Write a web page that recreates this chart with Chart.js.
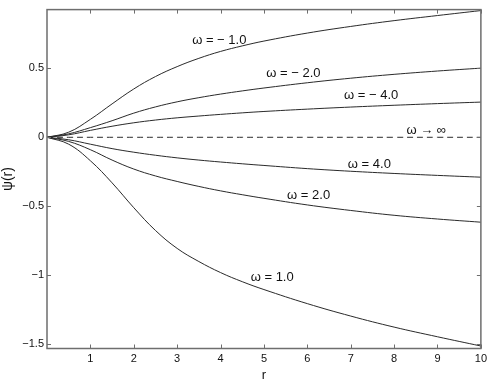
<!DOCTYPE html>
<html>
<head>
<meta charset="utf-8">
<script src="https://cdn.jsdelivr.net/npm/chart.js@4/dist/chart.umd.min.js"></script>
<style>
html,body{margin:0;padding:0;background:#fff;}
#wrap{width:491px;height:385px;position:relative;}
</style>
</head>
<body>
<div id="wrap"><canvas id="c"></canvas></div>
<script>
// ---- data ----
const rValues     = [0, 0.5, 1, 1.5, 2, 2.5, 3, 3.5, 4, 4.5, 5, 6, 7, 8, 9, 10];
const psiOmegaM1  = [0, 0.037, 0.13, 0.242, 0.35, 0.44, 0.512, 0.572, 0.622, 0.662, 0.697, 0.755, 0.803, 0.845, 0.882, 0.918];
const psiOmegaM2  = [0, 0.025, 0.07, 0.12, 0.175, 0.22, 0.257, 0.287, 0.313, 0.336, 0.357, 0.395, 0.428, 0.456, 0.48, 0.501];
const psiOmegaM4  = [0, 0.018, 0.05, 0.08, 0.105, 0.125, 0.141, 0.154, 0.166, 0.177, 0.187, 0.204, 0.219, 0.232, 0.244, 0.255];
const psiOmegaInf = [0, 0, 0, 0, 0, 0, 0, 0, 0, 0, 0, 0, 0, 0, 0, 0];
const psiOmegaP4  = [0, -0.018, -0.05, -0.082, -0.108, -0.13, -0.149, -0.165, -0.179, -0.192, -0.204, -0.227, -0.246, -0.262, -0.276, -0.289];
const psiOmegaP2  = [0, -0.03, -0.09, -0.165, -0.23, -0.28, -0.32, -0.356, -0.388, -0.416, -0.442, -0.49, -0.53, -0.565, -0.592, -0.615];
const psiOmegaP1  = [0, -0.05, -0.17, -0.33, -0.51, -0.675, -0.805, -0.90, -0.98, -1.046, -1.103, -1.205, -1.295, -1.375, -1.445, -1.512];
const xTickValues = [1, 2, 3, 4, 5, 6, 7, 8, 9, 10];
const yTickValues = [-1.5, -1, -0.5, 0, 0.5];
const yTickLabels = ['\u22121.5', '\u22121', '\u22120.5', '0', '0.5'];
const curveLabels = ['\u03c9 = \u2212 1.0', '\u03c9 = \u2212 2.0', '\u03c9 = \u2212 4.0', '\u03c9 \u2192 \u221e', '\u03c9 = 4.0', '\u03c9 = 2.0', '\u03c9 = 1.0'];
const curveLabelR   = [3.97, 5.68, 7.47, 8.74, 7.43, 6.03, 5.19];
const curveLabelPsi = [0.70, 0.465, 0.30, 0.052, -0.194, -0.421, -1.017];

const seriesList = [
  {data: psiOmegaM1, dash: []},
  {data: psiOmegaM2, dash: []},
  {data: psiOmegaM4, dash: []},
  {data: psiOmegaInf, dash: [6, 4]},
  {data: psiOmegaP4, dash: []},
  {data: psiOmegaP2, dash: []},
  {data: psiOmegaP1, dash: []}
];
const datasets = seriesList.map(s => ({
  data: rValues.map((r, i) => ({x: r, y: s.data[i]})),
  borderColor: '#2a2a2a',
  borderWidth: 1,
  borderDash: s.dash,
  pointRadius: 0,
  fill: false,
  tension: 0.4
}));

const AXIS_COLOR = '#6e6e6e';
const boxPlugin = {
  id: 'box',
  afterDraw(chart) {
    const ctx = chart.ctx, a = chart.chartArea;
    const xs = chart.scales.x, ys = chart.scales.y;
    ctx.save();
    ctx.strokeStyle = AXIS_COLOR;
    ctx.lineWidth = 1.5;
    ctx.strokeRect(a.left, a.top, a.right - a.left, a.bottom - a.top);
    ctx.lineWidth = 1;
    const L = 4;
    ctx.beginPath();
    xTickValues.forEach(v => {
      const px = Math.round(xs.getPixelForValue(v)) + 0.5;
      ctx.moveTo(px, a.bottom); ctx.lineTo(px, a.bottom - L);
      ctx.moveTo(px, a.top); ctx.lineTo(px, a.top + L);
    });
    yTickValues.forEach(v => {
      const py = Math.round(ys.getPixelForValue(v)) + 0.5;
      ctx.moveTo(a.left, py); ctx.lineTo(a.left + L, py);
      ctx.moveTo(a.right, py); ctx.lineTo(a.right - L, py);
    });
    ctx.stroke();
    // curve labels
    ctx.fillStyle = '#111';
    ctx.font = '13px "Liberation Sans", Arial, sans-serif';
    ctx.textAlign = 'center';
    ctx.textBaseline = 'middle';
    curveLabels.forEach((t, i) => {
      ctx.fillText(t, xs.getPixelForValue(curveLabelR[i]), ys.getPixelForValue(curveLabelPsi[i]));
    });
    ctx.restore();
  }
};

new Chart(document.getElementById('c'), {
  type: 'line',
  data: {datasets},
  plugins: [boxPlugin],
  options: {
    responsive: true,
    maintainAspectRatio: false,
    animation: false,
    layout: {padding: {top: 3, right: 7, left: 0, bottom: 0}},
    plugins: {legend: {display: false}, tooltip: {enabled: false}},
    scales: {
      x: {
        type: 'linear', min: 0, max: 10,
        afterBuildTicks: s => { s.ticks = xTickValues.map(v => ({value: v})); },
        afterFit: s => { s.height = 36.5; },
        grid: {display: false, drawTicks: false},
        border: {display: false},
        ticks: {color: '#111', font: {family: 'Liberation Sans', size: 11}, padding: 4, maxRotation: 0, autoSkip: false},
        title: {display: true, text: 'r', color: '#111', font: {family: 'Liberation Sans', size: 13}, padding: {top: 0, bottom: 2}}
      },
      y: {
        type: 'linear', min: -1.53, max: 0.925,
        afterBuildTicks: s => { s.ticks = yTickValues.map(v => ({value: v})); },
        afterFit: s => { s.width = 47; },
        grid: {display: false, drawTicks: false},
        border: {display: false},
        ticks: {color: '#111', font: {family: 'Liberation Sans', size: 11}, padding: 3, autoSkip: false,
          callback: (v) => { const i = yTickValues.indexOf(v); return i >= 0 ? yTickLabels[i] : ''; }},
        title: {display: true, text: '\u03c8(r)', color: '#111', font: {family: 'Liberation Sans', size: 14}, padding: {top: 0, bottom: 0}}
      }
    }
  }
});
</script>
</body>
</html>
